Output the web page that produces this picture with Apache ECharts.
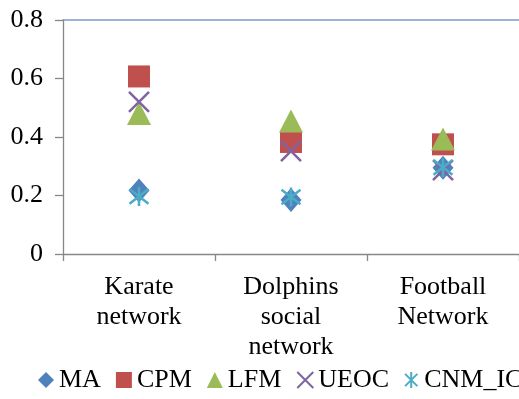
<!DOCTYPE html>
<html>
<head>
<meta charset="utf-8">
<script src="https://cdn.jsdelivr.net/npm/echarts@6/dist/echarts.min.js"></script>
<style>
  html, body { margin: 0; padding: 0; background: #fff; }
  #chart { width: 519px; height: 399px; }
</style>
</head>
<body>
<div id="chart"></div>
<script>
// Networks compared along the x axis
const categories = ['Karate\nnetwork', 'Dolphins\nsocial\nnetwork', 'Football\nNetwork'];

// Scores of each community detection method per network
const ma    = [0.217, 0.185, 0.295];
const cpm   = [0.607, 0.383, 0.375];
const lfm   = [0.48, 0.455, 0.393];
const ueoc  = [0.52, 0.352, 0.287];
const cnmIc = [0.197, 0.195, 0.296];

// Y axis ticks
const yTicks = [0, 0.2, 0.4, 0.6, 0.8];

const FONT = '"Liberation Serif", "Times New Roman", serif';
const FS = 26;

// Marker shapes built from strokes (cross and star)
const crossPath = 'path://M0,0 L10,10 M10,0 L0,10';
const starPath  = 'path://M0,0 L10,10 M10,0 L0,10 M5,-1.5 L5,11.5';

function strokeSeries(name, data, path, color, size) {
  return {
    name, type: 'scatter', data, symbol: path, symbolSize: size,
    itemStyle: { color: 'rgba(0,0,0,0)', borderColor: color, borderWidth: 2.5, opacity: 1 }
  };
}

const chart = echarts.init(document.getElementById('chart'), null, { renderer: 'canvas' });
chart.setOption({
  animation: false,
  textStyle: { fontFamily: FONT },
  grid: { left: 63, right: 0, top: 20, bottom: 145, containLabel: false },
  legend: {
    left: 33, top: 362, width: 700,
    itemWidth: 16, itemHeight: 16, itemGap: 15,
    textStyle: { fontFamily: FONT, fontSize: FS, color: '#000' },
    data: ['MA', 'CPM', 'LFM', 'UEOC', 'CNM_IC']
  },
  xAxis: [{
    type: 'category', data: categories, boundaryGap: true,
    axisLine: { lineStyle: { color: '#878787', width: 1.3 } },
    axisTick: { show: true, length: 7, lineStyle: { color: '#878787', width: 1.3 } },
    axisLabel: { fontFamily: FONT, fontSize: FS, color: '#000', lineHeight: 30, margin: 18, interval: 0 }
  }, {
    // top border line of the plot area
    type: 'category', data: categories, position: 'top',
    axisLine: { lineStyle: { color: '#7B9BCE', width: 1.5 } },
    axisTick: { show: false }, axisLabel: { show: false }
  }],
  yAxis: {
    type: 'value', min: yTicks[0], max: yTicks[yTicks.length - 1], interval: 0.2,
    axisLine: { show: true, lineStyle: { color: '#878787', width: 1.3 } },
    axisTick: { show: true, length: 8, lineStyle: { color: '#878787', width: 1.3 } },
    splitLine: { show: false },
    axisLabel: { fontFamily: FONT, fontSize: FS, color: '#000', margin: 20 }
  },
  series: [
    { name: 'MA', type: 'scatter', data: ma, symbol: 'diamond', symbolSize: [21, 24],
      itemStyle: { color: '#4F81BD', opacity: 1 } },
    { name: 'CPM', type: 'scatter', data: cpm, symbol: 'rect', symbolSize: 22,
      itemStyle: { color: '#C0504D', opacity: 1 } },
    { name: 'LFM', type: 'scatter', data: lfm, symbol: 'triangle', symbolSize: [24, 23],
      itemStyle: { color: '#9BBB59', opacity: 1 } },
    strokeSeries('UEOC', ueoc, crossPath, '#8064A2', 20),
    strokeSeries('CNM_IC', cnmIc, starPath, '#4BACC6', 19)
  ]
});
</script>
</body>
</html>
